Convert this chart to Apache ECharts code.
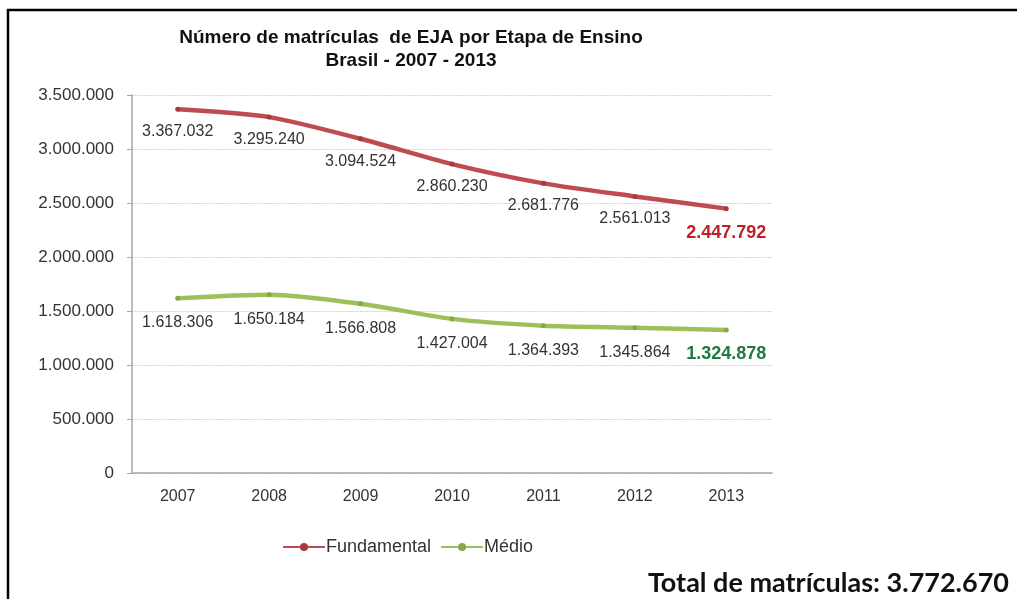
<!DOCTYPE html>
<html>
<head>
<meta charset="utf-8">
<script src="https://cdn.jsdelivr.net/npm/echarts@6/dist/echarts.min.js"></script>
<style>
	html, body { margin: 0; padding: 0; background: #fff; }
	#chart { width: 1017px; height: 599px; }
</style>
</head>
<body>
<div id="chart"></div>
<script>
var years = ['2007', '2008', '2009', '2010', '2011', '2012', '2013'];
var fundamental = [3367032, 3295240, 3094524, 2860230, 2681776, 2561013, 2447792];
var medio = [1618306, 1650184, 1566808, 1427004, 1364393, 1345864, 1324878];
var totalText = 'Total de matrículas: 3.772.670';

var redColor = '#be4b4f';
var greenColor = '#9dc05a';

function fmt(v) {
	return String(v).replace(/\B(?=(\d{3})+(?!\d))/g, '.');
}

function buildData(values, lastColor, lastOffset) {
	var data = [];
	for (var i = 0; i < values.length; i++) {
		var item = { value: values[i] };
		if (i === values.length - 1) {
			item.label = {
				color: lastColor,
				fontWeight: 'bold',
				fontSize: 18,
				offset: lastOffset
			};
		}
		data.push(item);
	}
	return data;
}

var myChart = echarts.init(document.getElementById('chart'));
var option = {
	animation: false,
	textStyle: { fontFamily: 'Liberation Sans, Arial, sans-serif' },
	title: {
		text: 'Número de matrículas  de EJA por Etapa de Ensino\nBrasil - 2007 - 2013',
		left: 406,
		top: 21,
		textAlign: 'center',
		textStyle: {
			fontSize: 19,
			fontWeight: 'bold',
			color: '#111',
			lineHeight: 23
		}
	},
	legend: {
		top: 533,
		left: 277,
		itemWidth: 42,
		itemHeight: 10,
		itemGap: 9,
		textStyle: { fontSize: 18, color: '#333', padding: [0, 0, 0, -4] },
		data: ['Fundamental', 'Médio']
	},
	grid: {
		left: 132,
		right: 245,
		top: 95,
		bottom: 126
	},
	xAxis: {
		type: 'category',
		data: years,
		boundaryGap: true,
		axisLine: { lineStyle: { color: '#a6a6a6', width: 1.5 } },
		axisTick: { show: false },
		axisLabel: { fontSize: 16, color: '#333', margin: 16 }
	},
	yAxis: {
		type: 'value',
		min: 0,
		max: 3500000,
		interval: 500000,
		axisLine: { show: true, lineStyle: { color: '#a6a6a6', width: 1.5 } },
		axisTick: { show: true, length: 5, lineStyle: { color: '#a6a6a6' } },
		splitLine: { lineStyle: { color: '#c4c4c4', type: 'dotted', width: 1.2 } },
		axisLabel: { fontSize: 17, color: '#333', margin: 18, formatter: fmt }
	},
	series: [
		{
			name: 'Fundamental',
			type: 'line',
			smooth: 0.25,
			color: redColor,
			symbol: 'circle',
			symbolSize: 5,
			lineStyle: { width: 4.5, color: redColor },
			itemStyle: { color: '#a8393d' },
			label: {
				show: true,
				position: 'bottom',
				distance: 12,
				fontSize: 16,
				color: '#333',
				formatter: function (p) { return fmt(p.value); }
			},
			data: buildData(fundamental, '#c0202a', [0, 1])
		},
		{
			name: 'Médio',
			type: 'line',
			smooth: 0.25,
			color: greenColor,
			symbol: 'circle',
			symbolSize: 5,
			lineStyle: { width: 4.5, color: greenColor },
			itemStyle: { color: '#86a84a' },
			label: {
				show: true,
				position: 'bottom',
				distance: 14,
				fontSize: 16,
				color: '#333',
				formatter: function (p) { return fmt(p.value); }
			},
			data: buildData(medio, '#1f7a40', [0, -1])
		}
	],
	graphic: [
		{
			type: 'line',
			shape: { x1: 7, y1: 10, x2: 1017, y2: 10 },
			style: { stroke: '#000', lineWidth: 2.5 }
		},
		{
			type: 'line',
			shape: { x1: 8, y1: 9, x2: 8, y2: 599 },
			style: { stroke: '#000', lineWidth: 2.5 }
		},
		{
			type: 'text',
			right: 8,
			top: 570,
			style: {
				text: totalText,
				fontFamily: 'Lato, Open Sans, sans-serif',
				fontSize: 27,
				fontWeight: 'bold',
				fill: '#111'
			}
		}
	]
};
myChart.setOption(option);
</script>
</body>
</html>
